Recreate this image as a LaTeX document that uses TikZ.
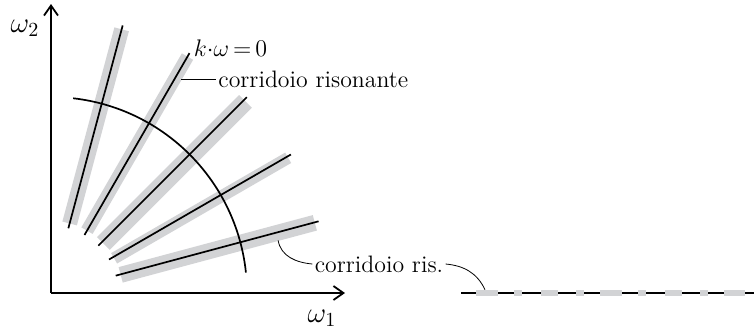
\documentclass[tikz,border=0pt]{standalone}
\usepackage{amsmath,amssymb}
\usepackage{tikz}
\usetikzlibrary{arrows.meta,positioning,calc}
\definecolor{bandgray}{RGB}{210,211,213}
\begin{document}
\begin{tikzpicture}[x=0.5pt, y=0.5pt,
    band/.style={line width=#1pt, draw=bandgray},
    ray/.style={line width=0.85pt},
    axis/.style={-{Straight Barb[length=5pt,width=7pt]}, line width=0.9pt},
    lead/.style={line width=0.4pt},
    lbl/.style={font=\fontsize{11.9}{14}\selectfont, inner sep=1pt},
    axlbl/.style={font=\fontsize{14.5}{17}\selectfont, inner sep=1pt}
]
\useasboundingbox (0,0) rectangle (754,334);
\coordinate (O) at (51,41);

% resonance bands
\foreach \ang/\wd/\sh in {75/7.5/0, 60/6.5/0, 45/9/2, 30/6/1.5, 15/8/0.5}
  \draw[band=\wd] ($(O)+(\ang:72)+(\ang-90:\sh)$) -- ($(O)+(\ang:273)+(\ang-90:\sh)$);

% rays k.omega = 0
\foreach \ang in {15,30,45,60,75}
  \draw[ray] ($(O)+(\ang:67)$) -- ($(O)+(\ang:277)$) coordinate (end\ang);

\draw[ray] ($(O)+(83.5:196)$) arc[start angle=83.5, end angle=6, radius=196];

% axes
\draw[axis] (O) -- (345,41);
\draw[axis] (O) -- (51,330);
\node[axlbl] (w1) at (322,16) {$\omega_1$};
\node[axlbl] (w2) at (25,306) {$\omega_2$};

% labels
\node[lbl, anchor=base west] (kw) at ($(end60)+(2,-3)$) {$k{\cdot}\omega\,{=}\,0$};
\coordinate (c60) at (181,255);
\node[lbl, anchor=west] (cr1) at (216,255) {corridoio risonante};
\draw[lead] (c60) -- (cr1);

\node[lbl] (cr2) at (379,70) {corridoio ris.};
\coordinate (c15) at ($(O)+(15:233)+(-75:8)$);
\draw[lead] (c15) to[out=-80, in=175] (cr2.west);

% section line
\coordinate (s0) at (461,41);
\coordinate (s1) at (754,41);
\draw[ray] (s0) -- (s1);
\foreach \xa/\xb in {475.7/497.7, 514.3/521.7, 541/557.7, 575.7/584.3, 600/621.7, 637.7/645.7, 665/681.7, 700/707.7, 724.3/745}
  \fill[bandgray] (\xa,37.7) rectangle (\xb,44.3);
\coordinate (sc) at (485,44.3);
\draw[lead] (cr2.east) to[out=-5, in=115] (sc);
\end{tikzpicture}
\end{document}
